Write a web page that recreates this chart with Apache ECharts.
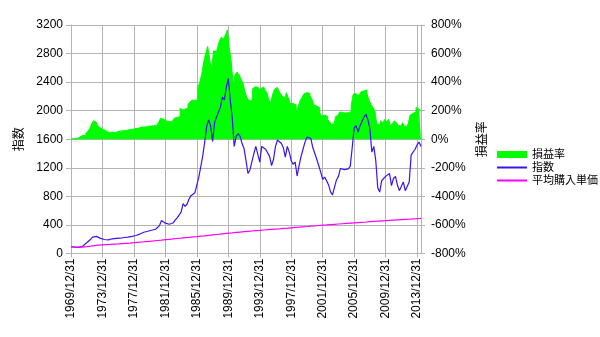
<!DOCTYPE html>
<html>
<head>
<meta charset="utf-8">
<script src="https://cdn.jsdelivr.net/npm/echarts@6/dist/echarts.min.js"></script>
<style>
  html, body { margin: 0; padding: 0; background: #fff; }
  #chart { width: 600px; height: 337px; }
</style>
</head>
<body>
<div id="chart"></div>
<script>
// Quarter-end dates, 1969/12/31 through 2014/06/30
const firstYear = 1969;
const quarterCount = 179;
const quarterEnds = [];
(function () {
  const md = ['03/31', '06/30', '09/30', '12/31'];
  let y = firstYear, q = 3;
  for (let i = 0; i < quarterCount; i++) {
    quarterEnds.push(y + '/' + md[q]);
    q++;
    if (q === 4) { q = 0; y++; }
  }
})();

// Index level at each quarter end
const indexValues = [
  95, 90, 88, 84, 86, 92, 105, 120, 150, 175,
  200, 230, 256, 240, 226, 212, 218, 196, 205, 190,
  186, 206, 200, 212, 208, 214, 220, 224, 226, 230,
  235, 240, 246, 252, 262, 272, 285, 298, 305, 312,
  320, 326, 330, 340, 355, 390, 462, 440, 425, 420,
  410, 400, 430, 470, 500, 520, 580, 700, 660, 690,
  760, 810, 830, 850, 858, 1070, 1215, 1370, 1560, 1780,
  1870, 1790, 1570, 1830, 1910, 1900, 2050, 2190, 2150, 2330,
  2450, 2150, 1900, 1500, 1640, 1680, 1640, 1540, 1470, 1300,
  1120, 1170, 1160, 1400, 1500, 1480, 1280, 1500, 1510, 1460,
  1440, 1360, 1230, 1320, 1500, 1590, 1580, 1540, 1480, 1350,
  1500, 1420, 1300, 1250, 1280, 1085, 1230, 1360, 1460, 1560,
  1630, 1640, 1610, 1480, 1400, 1320, 1300, 1140, 1040, 1070,
  1020, 960, 862, 820, 830, 1030, 1080, 1190, 1180, 1175,
  1180, 1185, 1220, 1480, 1760, 1790, 1700, 1790, 1850, 1910,
  1950, 1870, 1750, 1420, 1500, 1300, 920, 860, 1020, 1050,
  1080, 1060, 1120, 950, 1050, 1080, 960, 880, 870, 1000,
  880, 880, 1000, 1380, 1370, 1460, 1520, 1560, 1500
];

// Average purchase price (dollar-cost averaging)
const avgCost = [
  95, 93, 91, 90, 89, 89, 90, 92, 95, 98,
  102, 106, 110, 113, 116, 118, 120, 122, 124, 126,
  127, 129, 131, 133, 134, 136, 138, 140, 142, 144,
  146, 148, 151, 153, 156, 158, 161, 163, 166, 168,
  171, 174, 176, 179, 182, 184, 187, 190, 193, 195,
  198, 201, 204, 207, 210, 212, 215, 218, 221, 224,
  226, 229, 232, 235, 237, 240, 243, 245, 248, 251,
  254, 257, 260, 263, 266, 269, 272, 275, 278, 281,
  284, 286, 289, 292, 295, 297, 300, 302, 305, 307,
  310, 313, 315, 318, 320, 322, 324, 327, 329, 331,
  333, 335, 338, 340, 342, 344, 346, 349, 351, 353,
  355, 358, 360, 362, 365, 367, 369, 371, 374, 376,
  378, 381, 383, 385, 387, 389, 392, 394, 396, 398,
  400, 403, 405, 407, 409, 411, 413, 415, 417, 419,
  421, 423, 425, 427, 429, 431, 433, 435, 437, 439,
  441, 444, 446, 448, 450, 452, 454, 456, 458, 459,
  461, 463, 465, 466, 468, 469, 471, 472, 474, 475,
  477, 478, 480, 482, 484, 486, 487, 489, 491
];

// Profit / loss rate (%)
const profitRate = [
  0, 5, 7, 5, 15, 20, 28, 25, 40, 55,
  75, 108, 130, 118, 93, 80, 68, 62, 58, 45,
  43, 50, 45, 44, 55, 58, 57, 60, 63, 66,
  68, 70, 72, 75, 78, 82, 86, 86, 88, 90,
  92, 93, 94, 98, 102, 115, 147, 140, 130, 125,
  123, 125, 135, 147, 152, 160, 220, 205, 210, 220,
  245, 260, 275, 270, 278, 360, 400, 455, 543, 600,
  650, 560, 480, 620, 615, 640, 690, 715, 700, 729,
  765, 640, 540, 380, 455, 470, 450, 420, 390, 330,
  290, 272, 268, 357, 368, 360, 340, 355, 365, 345,
  330, 280, 255, 310, 350, 363, 345, 320, 300, 290,
  326, 290, 250, 250, 240, 195, 225, 270, 294, 318,
  326, 322, 305, 280, 240, 233, 220, 186, 160, 170,
  160, 138, 123, 105, 110, 158, 170, 190, 188, 183,
  193, 186, 193, 235, 315, 320, 303, 317, 333, 338,
  345, 320, 275, 245, 224, 200, 107, 100, 130, 112,
  138, 120, 140, 93, 112, 130, 115, 98, 92, 116,
  90, 93, 110, 170, 182, 193, 224, 210, 200
];

// Axis ranges
const indexAxis = { min: 0, max: 3200, step: 400 };
const rateAxis = { min: -800, max: 800, step: 200 };

const gridColor = '#b3b3b3';
const latin = "'Liberation Sans', Arial, sans-serif";
const cjk = "'Liberation Sans', 'Noto Sans CJK JP', sans-serif";

const chart = echarts.init(document.getElementById('chart'), null, { renderer: 'canvas' });

chart.setOption({
  animation: false,
  backgroundColor: '#ffffff',
  textStyle: { fontFamily: cjk },
  grid: { left: 71, top: 25, width: 350, height: 228.5, containLabel: false },
  legend: {
    orient: 'vertical',
    left: 491,
    top: 144,
    itemWidth: 30,
    itemHeight: 7,
    itemGap: 2,
    textStyle: { fontSize: 11, color: '#000', fontFamily: cjk },
    data: [
      { name: '損益率', icon: 'rect', itemStyle: { color: '#00ff00' } },
      { name: '指数', itemStyle: { opacity: 0 } },
      { name: '平均購入単価', itemStyle: { opacity: 0 } }
    ]
  },
  xAxis: {
    type: 'category',
    data: quarterEnds,
    boundaryGap: false,
    axisLine: { show: true, lineStyle: { color: gridColor } },
    axisTick: { show: true, interval: 15, length: 4, lineStyle: { color: gridColor } },
    axisLabel: {
      interval: 15, rotate: 90, margin: 5,
      fontSize: 12, color: '#000', fontFamily: latin
    },
    splitLine: { show: true, interval: 15, lineStyle: { color: gridColor, width: 1 } }
  },
  yAxis: [
    {
      type: 'value',
      position: 'left',
      min: indexAxis.min, max: indexAxis.max, interval: indexAxis.step,
      name: '指数',
      nameLocation: 'middle',
      nameRotate: 90,
      nameGap: 44,
      nameTextStyle: { fontSize: 12, color: '#000', fontFamily: cjk },
      axisLine: { show: true, lineStyle: { color: gridColor } },
      axisTick: { show: true, length: 5, lineStyle: { color: gridColor } },
      axisLabel: {
        margin: 8, fontSize: 12, color: '#000', fontFamily: latin,
        formatter: (v) => String(v)
      },
      splitLine: { show: true, lineStyle: { color: gridColor, width: 1 } }
    },
    {
      type: 'value',
      position: 'right',
      min: rateAxis.min, max: rateAxis.max, interval: rateAxis.step,
      name: '損益率',
      nameLocation: 'middle',
      nameRotate: 90,
      nameGap: 50,
      nameTextStyle: { fontSize: 12, color: '#000', fontFamily: cjk },
      axisLine: { show: true, lineStyle: { color: gridColor } },
      axisTick: { show: true, length: 4, lineStyle: { color: gridColor } },
      axisLabel: { margin: 10, fontSize: 12, color: '#000', fontFamily: latin, formatter: '{value}%' },
      splitLine: { show: false }
    }
  ],
  series: [
    {
      // profit rate drawn as contiguous quarterly columns
      name: '損益率',
      type: 'line',
      yAxisIndex: 1,
      data: profitRate,
      step: 'middle',
      symbol: 'none',
      itemStyle: { color: '#00ff00' },
      lineStyle: { width: 1, color: '#00ff00' },
      areaStyle: { color: '#00ff00', opacity: 1, origin: 0 },
      z: 1
    },
    {
      name: '指数',
      type: 'line',
      yAxisIndex: 0,
      data: indexValues,
      symbol: 'none',
      itemStyle: { color: '#3a14f0' },
      lineStyle: { color: '#3a14f0', width: 1.2 },
      z: 3
    },
    {
      name: '平均購入単価',
      type: 'line',
      yAxisIndex: 0,
      data: avgCost,
      symbol: 'none',
      itemStyle: { color: '#ff00ff' },
      lineStyle: { color: '#ff00ff', width: 1.2 },
      z: 4
    }
  ]
});
</script>
</body>
</html>
